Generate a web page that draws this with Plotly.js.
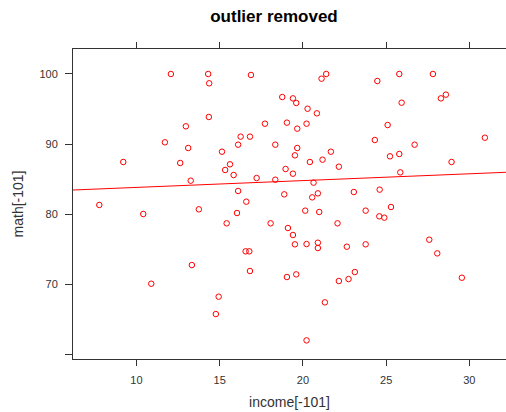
<!DOCTYPE html>
<html>
<head>
<meta charset="utf-8">
<script src="https://cdn.plot.ly/plotly-3.0.1.min.js"></script>
<style>html,body{margin:0;padding:0;background:#fff;}#chart{width:506px;height:412px;}</style>
</head>
<body>
<div id="chart"></div>
<script>
// income[-101] values
var income = [
  12.07, 14.31, 14.37, 14.35, 12.97, 11.71, 13.11, 9.21, 12.63, 13.26,
  7.77, 10.41, 13.75, 13.33, 10.89, 16.88, 21.4, 21.12, 18.76, 19.4,
  19.6, 20.28, 20.84, 17.72, 19.04, 19.66, 20.22, 16.26, 16.82, 16.11,
  18.34, 15.14, 19.66, 19.52, 20.42, 21.18, 21.68, 22.16, 15.62, 15.33,
  15.84, 17.22, 18.34, 18.96, 19.4, 20.64, 16.11, 18.88, 20.56, 20.9,
  16.6, 16.04, 20.14, 20.98, 15.42, 18.06, 22.08, 19.1, 19.4, 19.52,
  20.22, 20.9, 20.9, 22.64, 16.56, 16.78, 16.82, 19.04, 19.6, 22.16,
  22.74, 14.94, 14.77, 21.32, 20.22, 25.79, 27.81, 24.47, 28.59, 28.29,
  25.93, 25.09, 24.32, 26.71, 30.93, 25.23, 25.79, 28.93, 25.85, 23.06,
  24.61, 25.29, 23.77, 24.59, 24.89, 23.77, 27.59, 28.07, 23.12, 29.55
];
// math[-101] values
var math = [
  100, 100, 98.67, 93.86, 92.53, 90.24, 89.43, 87.43, 87.29, 84.76,
  81.29, 80, 80.67, 72.71, 70.04, 99.86, 100, 99.33, 96.71, 96.52,
  95.86, 95.04, 94.38, 92.9, 93.05, 92.19, 92.9, 91.05, 91.05, 89.9,
  89.9, 88.9, 89.43, 88.38, 87.43, 87.76, 88.9, 86.76, 87.1, 86.29,
  85.57, 85.14, 84.9, 86.43, 85.76, 84.48, 83.29, 82.81, 82.38, 82.95,
  81.76, 80.14, 80.48, 80.29, 78.67, 78.67, 78.67, 78, 77, 75.67,
  75.71, 75.9, 75.14, 75.33, 74.67, 74.67, 71.86, 71, 71.38, 70.43,
  70.71, 68.19, 65.71, 67.38, 61.95, 100, 100, 99, 97.05, 96.52,
  95.9, 92.71, 90.57, 89.9, 90.9, 88.24, 88.57, 87.43, 85.95, 83.14,
  83.48, 81, 80.48, 79.67, 79.48, 75.67, 76.33, 74.38, 71.71, 70.9
];
// fitted regression line end points
var fitX = [6.19, 32.2];
var fitY = [83.43, 85.96];
// tick labels
var xTickVals = [10, 15, 20, 25, 30];
var xTickText = ["10", "15", "20", "25", "30"];
var yTickVals = [60, 70, 80, 90, 100];
var yTickText = ["", "70", "80", "90", "100"];

var font = "Liberation Sans, Arial, sans-serif";
var axisCol = "#333333";

var traces = [
  {
    x: income, y: math, type: "scatter", mode: "markers",
    marker: {symbol: "circle-open", size: 5.5, color: "#ff0000", line: {width: 1, color: "#ff0000"}},
    hoverinfo: "x+y", showlegend: false
  },
  {
    x: fitX, y: fitY, type: "scatter", mode: "lines",
    line: {color: "#ff0000", width: 1}, showlegend: false
  }
];

var layout = {
  width: 506, height: 412,
  margin: {l: 73, r: 0, t: 49, b: 53, pad: 0},
  paper_bgcolor: "#ffffff", plot_bgcolor: "#ffffff",
  font: {family: font, size: 11, color: axisCol},
  title: {
    text: "<b>outlier removed</b>",
    font: {family: font, size: 17, color: "#000000"},
    xref: "container", x: 0.5415, xanchor: "center",
    yref: "container", y: 0.961, yanchor: "middle"
  },
  xaxis: {
    range: [6.19, 32.2],
    tickmode: "array", tickvals: xTickVals, ticktext: xTickText,
    ticks: "outside", ticklen: 6, tickwidth: 1, tickcolor: axisCol,
    showline: true, linecolor: axisCol, linewidth: 1, mirror: "ticks",
    showgrid: false, zeroline: false, ticklabelstandoff: 5,
    tickfont: {family: font, size: 11, color: axisCol},
    title: {text: "income[-101]", font: {family: font, size: 14, color: axisCol}, standoff: 11}
  },
  yaxis: {
    range: [59.29, 103.57],
    tickmode: "array", tickvals: yTickVals, ticktext: yTickText,
    ticks: "outside", ticklen: 7, tickwidth: 1, tickcolor: axisCol,
    showline: true, linecolor: axisCol, linewidth: 1, mirror: false,
    showgrid: false, zeroline: false, ticklabelstandoff: 5,
    tickfont: {family: font, size: 11, color: axisCol},
    title: {text: "math[-101]", font: {family: font, size: 14, color: axisCol}, standoff: 12}
  }
};

Plotly.newPlot("chart", traces, layout, {displayModeBar: false, staticPlot: true});
</script>
</body>
</html>
